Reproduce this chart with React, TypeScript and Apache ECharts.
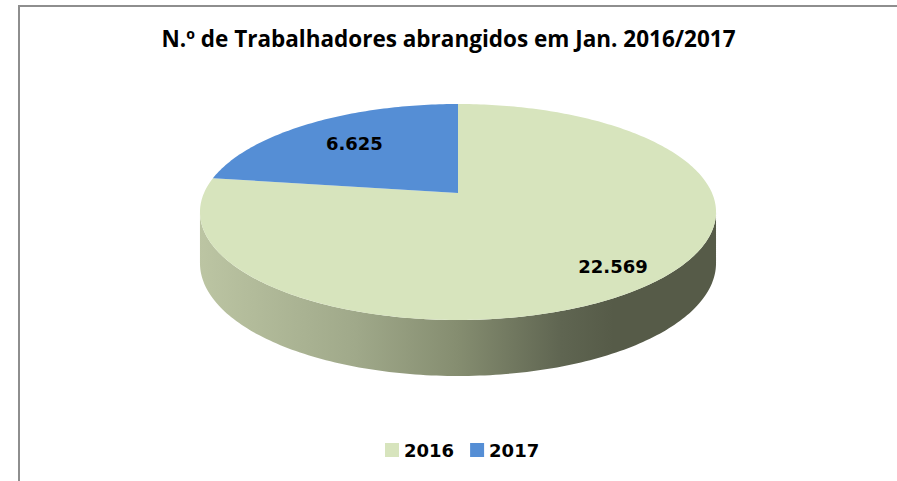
import React, { useEffect, useRef } from 'react';
import * as echarts from 'echarts';

const categories = ['2016', '2017'];
const values = [22569, 6625];
const colors = ['#d7e4bd', '#558ed5'];
const titleText = 'N.º de Trabalhadores abrangidos em Jan. 2016/2017';

// style / layout constants
const CX = 458;
const CY = 193;
const SX = 254;
const SY = 104.65;
const K = 0.176;
const DEPTH = 50;
const DEPTH_TILT = 0.12;
const LABEL_R = [0.83, 0.68];
const WALL_STOPS = [
  [
    { offset: 0, color: '#bcc5a3' },
    { offset: 0.3, color: '#a0a98a' },
    { offset: 0.5, color: '#858d70' },
    { offset: 0.7, color: '#5f6551' },
    { offset: 0.8, color: '#565b48' },
    { offset: 1, color: '#565b48' },
  ],
  [
    { offset: 0, color: '#8fb0dc' },
    { offset: 0.5, color: '#3f6ea8' },
    { offset: 1, color: '#2a4c78' },
  ],
];

function fmt(v: number) {
  return String(v).replace(/\B(?=(\d{3})+(?!\d))/g, '.');
}
function proj(X: number, Y: number) {
  const d = 1 + K * Y;
  return [CX + (SX * X) / d, CY - (SY * Y) / d];
}
function topPt(deg: number) {
  const t = (deg * Math.PI) / 180;
  return proj(Math.cos(t), Math.sin(t));
}
function botPt(deg: number) {
  const t = (deg * Math.PI) / 180;
  const p = proj(Math.cos(t), Math.sin(t));
  return [p[0], p[1] + DEPTH * (1 - DEPTH_TILT * Math.sin(t))];
}
function arc(a: number, b: number, fn: (d: number) => number[]) {
  const n = Math.max(2, Math.ceil(Math.abs(b - a)));
  const pts: number[][] = [];
  for (let i = 0; i <= n; i++) pts.push(fn(a + ((b - a) * i) / n));
  return pts;
}

export default function App() {
  const ref = useRef<HTMLDivElement>(null);
  useEffect(() => {
    document.body.style.margin = '0';
    if (!ref.current) return;
    const chart = echarts.init(ref.current, null, { renderer: 'svg' });
    const total = values.reduce((s, v) => s + v, 0);
    const delta = (Math.asin(K) * 180) / Math.PI;

    const series = categories.map((name, i) => ({
      type: 'custom',
      name,
      coordinateSystem: 'none',
      silent: true,
      itemStyle: { color: colors[i] },
      data: [[values[i]]],
      renderItem: (params: any, api: any) => {
        const v = api.value(0);
        const cum = values.slice(0, i).reduce((s, x) => s + x, 0);
        const a0 = 90 - (360 * cum) / total;
        const a1 = 90 - (360 * (cum + v)) / total;
        const children: any[] = [];
        const grad = new echarts.graphic.LinearGradient(
          CX - SX * 1.02, 0, CX + SX * 1.02, 0, WALL_STOPS[i], true
        );
        for (let k = -2; k <= 1; k++) {
          const lo = 180 + delta + 360 * k;
          const hi = 360 - delta + 360 * k;
          const s = Math.max(a1, lo);
          const e = Math.min(a0, hi);
          if (s < e) {
            const pts = arc(s, e, topPt).concat(arc(e, s, botPt));
            children.push({
              type: 'polygon',
              shape: { points: pts },
              style: { fill: grad, stroke: 'none' },
            });
          }
        }
        const facePts = [proj(0, 0)].concat(arc(a0, a1, topPt));
        children.push({
          type: 'polygon',
          shape: { points: facePts },
          style: { fill: colors[i], stroke: 'none' },
        });
        const mid = (((a0 + a1) / 2) * Math.PI) / 180;
        const f = LABEL_R[i];
        const lp = proj(f * Math.cos(mid), f * Math.sin(mid));
        children.push({
          type: 'text',
          x: lp[0],
          y: lp[1],
          style: {
            text: fmt(v),
            fill: '#000',
            fontSize: 18,
            fontWeight: 'bold',
            fontFamily: 'DejaVu Sans',
            align: 'center',
            verticalAlign: 'middle',
          },
        });
        return { type: 'group', children };
      },
    }));

    chart.setOption({
      animation: false,
      backgroundColor: '#ffffff',
      title: {
        text: titleText,
        left: 'center',
        top: 27,
        padding: 0,
        textStyle: {
          fontFamily: 'Open Sans',
          fontWeight: 'bold',
          fontSize: 22.5,
          color: '#000',
        },
      },
      legend: {
        data: categories,
        left: 385,
        top: 441,
        padding: 0,
        icon: 'rect',
        itemWidth: 14,
        itemHeight: 14,
        itemGap: 16,
        selectedMode: false,
        textStyle: {
          fontFamily: 'DejaVu Sans',
          fontWeight: 'bold',
          fontSize: 18,
          color: '#000',
        },
      },
      graphic: [
        {
          type: 'line',
          shape: { x1: 18, y1: 6, x2: 897, y2: 6 },
          style: { stroke: '#8e8e8e', lineWidth: 2 },
        },
        {
          type: 'line',
          shape: { x1: 19, y1: 5, x2: 19, y2: 481 },
          style: { stroke: '#8e8e8e', lineWidth: 2 },
        },
      ],
      series,
    });
    return () => chart.dispose();
  }, []);
  return <div ref={ref} style={{ width: 897, height: 481 }} />;
}
